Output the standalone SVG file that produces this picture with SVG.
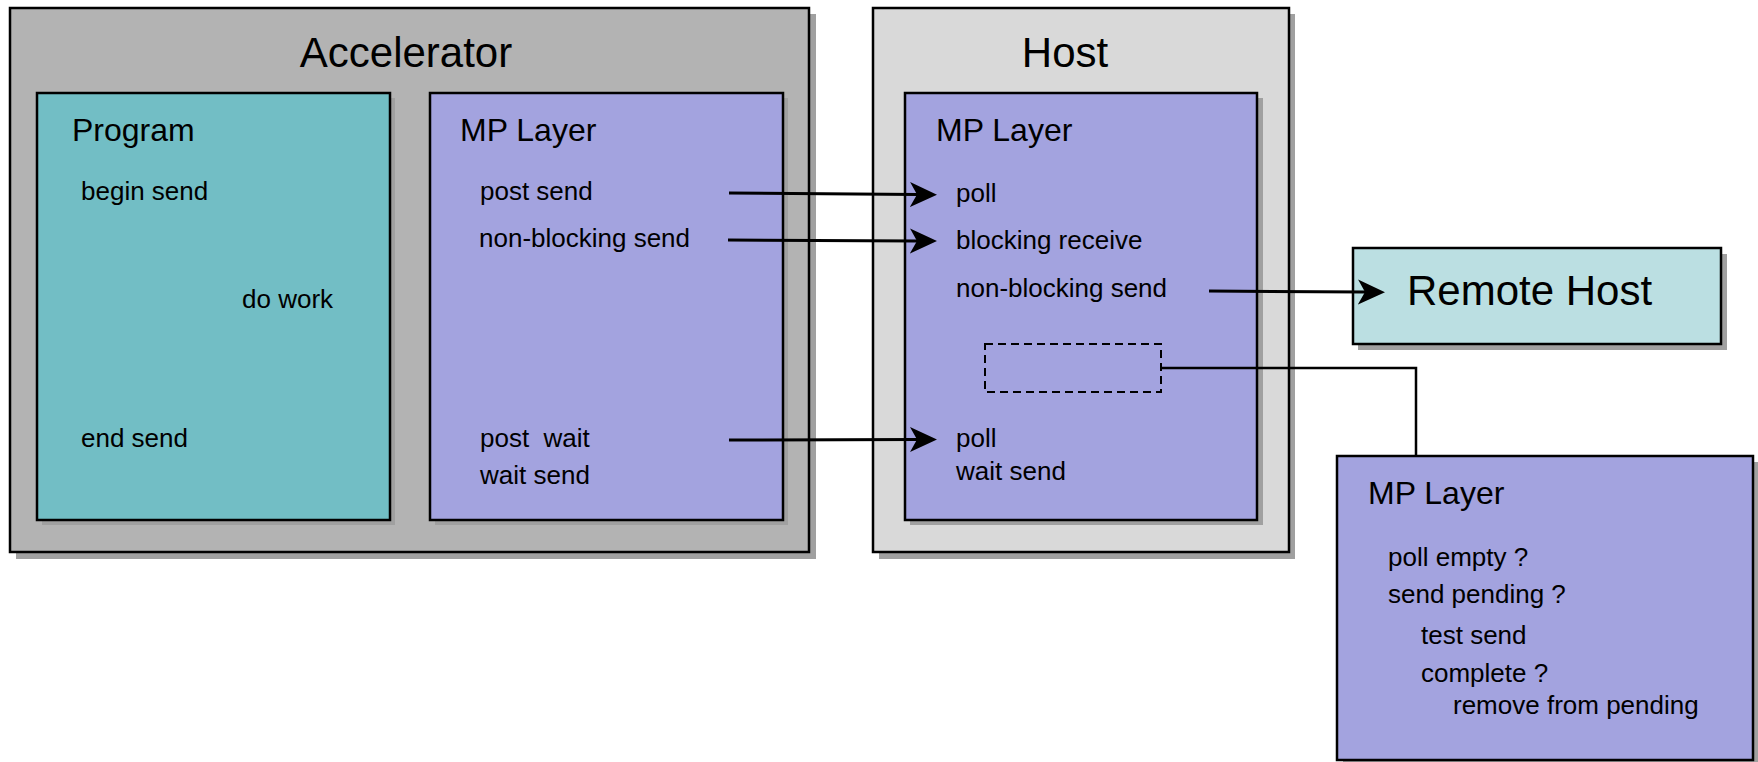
<svg xmlns="http://www.w3.org/2000/svg" width="1758" height="762" viewBox="0 0 1758 762">
  <defs>
    <style>
      .box { stroke: #000; stroke-width: 2.5; }
      .shadow { fill: #a0a0a0; }
      .accel { fill: #b3b3b3; }
      .host { fill: #d9d9d9; }
      .prog { fill: #72bec5; }
      .mp { fill: #a3a3df; }
      .remote { fill: #bbdfe2; }
      text { font-family: "Liberation Sans", Arial, sans-serif; fill: #000; }
      .big { font-size: 42px; }
      .title { font-size: 32px; }
      .item { font-size: 26px; white-space: pre; }
      .conn { stroke: #000; stroke-width: 3; fill: none; }
      .link { stroke: #000; stroke-width: 2.5; fill: none; }
    </style>
    <marker id="arrow" markerUnits="userSpaceOnUse" markerWidth="28" markerHeight="26" viewBox="0 0 28 26" refX="7" refY="13" orient="auto">
      <path d="M0,0.5 L27,13 L0,25.5 L7,13 Z" fill="#000"/>
    </marker>
  </defs>

  <rect width="1758" height="762" fill="#fff"/>

  <!-- Accelerator enclosure -->
  <g id="accelerator">
    <rect class="shadow" x="16" y="14" width="800" height="545"/>
    <rect class="box accel" x="10" y="8" width="799" height="544"/>
    <text class="big" x="406" y="67" text-anchor="middle">Accelerator</text>
  </g>

  <g id="program">
    <rect class="shadow" x="42" y="98" width="353" height="427"/>
    <rect class="box prog" x="37" y="93" width="353" height="427"/>
    <text class="title" x="72" y="141">Program</text>
    <text class="item" x="81" y="200">begin send</text>
    <text class="item" x="242" y="308">do work</text>
    <text class="item" x="81" y="447">end send</text>
  </g>

  <g id="accel-mp-layer">
    <rect class="shadow" x="435" y="98" width="353" height="427"/>
    <rect class="box mp" x="430" y="93" width="353" height="427"/>
    <text class="title" x="460" y="141">MP Layer</text>
    <text class="item" x="480" y="200">post send</text>
    <text class="item" x="479" y="247">non-blocking send</text>
    <text class="item" x="480" y="447" xml:space="preserve">post  wait</text>
    <text class="item" x="480" y="484">wait send</text>
  </g>

  <!-- Host enclosure -->
  <g id="host">
    <rect class="shadow" x="879" y="14" width="416" height="545"/>
    <rect class="box host" x="873" y="8" width="416" height="544"/>
    <text class="big" x="1065" y="67" text-anchor="middle">Host</text>
  </g>

  <g id="host-mp-layer">
    <rect class="shadow" x="910" y="98" width="353" height="427"/>
    <rect class="box mp" x="905" y="93" width="352" height="427"/>
    <text class="title" x="936" y="141">MP Layer</text>
    <text class="item" x="956" y="202">poll</text>
    <text class="item" x="956" y="249">blocking receive</text>
    <text class="item" x="956" y="297">non-blocking send</text>
    <rect x="985" y="344" width="176" height="48" fill="none" stroke="#000" stroke-width="2" stroke-dasharray="8,5"/>
    <text class="item" x="956" y="447">poll</text>
    <text class="item" x="956" y="480">wait send</text>
  </g>

  <g id="remote-host">
    <rect class="shadow" x="1358" y="254" width="369" height="96"/>
    <rect class="box remote" x="1353" y="248" width="368" height="96"/>
    <text class="big" x="1407" y="305">Remote Host</text>
  </g>

  <g id="host-mp-detail">
    <rect class="shadow" x="1343" y="462" width="416" height="305"/>
    <rect class="box mp" x="1337" y="456" width="416" height="304"/>
    <text class="title" x="1368" y="504">MP Layer</text>
    <text class="item" x="1388" y="566">poll empty ?</text>
    <text class="item" x="1388" y="603">send pending ?</text>
    <text class="item" x="1421" y="644">test send</text>
    <text class="item" x="1421" y="682">complete ?</text>
    <text class="item" x="1453" y="714">remove from pending</text>
  </g>

  <!-- Connectors -->
  <g id="connectors">
    <line class="conn" x1="729" y1="193" x2="917" y2="194.5" marker-end="url(#arrow)"/>
    <line class="conn" x1="728" y1="240" x2="917" y2="241" marker-end="url(#arrow)"/>
    <line class="conn" x1="729" y1="440" x2="917" y2="439.5" marker-end="url(#arrow)"/>
    <line class="conn" x1="1209" y1="291" x2="1365" y2="292" marker-end="url(#arrow)"/>
    <polyline class="link" points="1161,368 1416,368 1416,456"/>
  </g>
</svg>
